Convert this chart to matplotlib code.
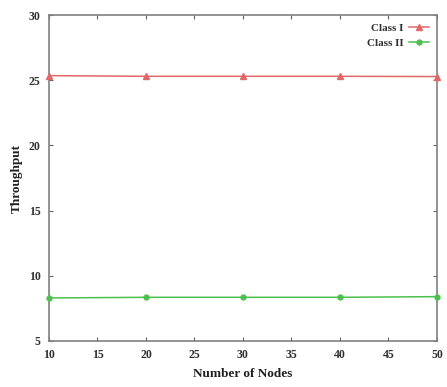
import matplotlib
matplotlib.use("Agg")
import matplotlib.pyplot as plt

nodes = [10, 20, 30, 40, 50]
class_1 = [25.35, 25.3, 25.3, 25.3, 25.28]
class_2 = [8.3, 8.35, 8.35, 8.35, 8.4]

x_ticks = [10, 15, 20, 25, 30, 35, 40, 45, 50]
y_ticks = [5, 10, 15, 20, 25, 30]

plt.rcParams['font.family'] = ['Liberation Serif', 'DejaVu Serif']
plt.rcParams['font.weight'] = 'bold'

fig = plt.figure(figsize=(4.47, 3.87), dpi=100)
ax = fig.add_axes([0.1096, 0.1189, 0.868, 0.8423])

ax.plot(nodes, class_1, color='#e06868', lw=1.1, marker='^', ms=4.5,
        label='Class I', clip_on=False, zorder=3)
ax.plot(nodes, class_2, color='#4cc04c', lw=1.1, marker='o', ms=3.5,
        label='Class II', clip_on=False, zorder=3)

ax.set_xlim(10, 50)
ax.set_ylim(5, 30)
ax.set_xticks(x_ticks)
ax.set_yticks(y_ticks)
ax.tick_params(direction='in', length=3, width=0.8, colors='#606060',
               labelcolor='#303030', labelsize=8.5, top=True, right=True,
               pad=6)
for s in ax.spines.values():
    s.set_color('#808080')
    s.set_linewidth(1.2)

ax.set_xlabel('Number of Nodes', fontsize=9.5, fontweight='bold',
              color='#202020', labelpad=5)
ax.set_ylabel('Throughput', fontsize=9.5, fontweight='bold',
              color='#202020', labelpad=4)

leg = ax.legend(loc='upper right', frameon=False, markerfirst=False,
                fontsize=8, handlelength=1.8, borderaxespad=0.3,
                labelspacing=0.5, handletextpad=0.5)
for t in leg.get_texts():
    t.set_color('#303030')

fig.savefig('out.png', dpi=100)
